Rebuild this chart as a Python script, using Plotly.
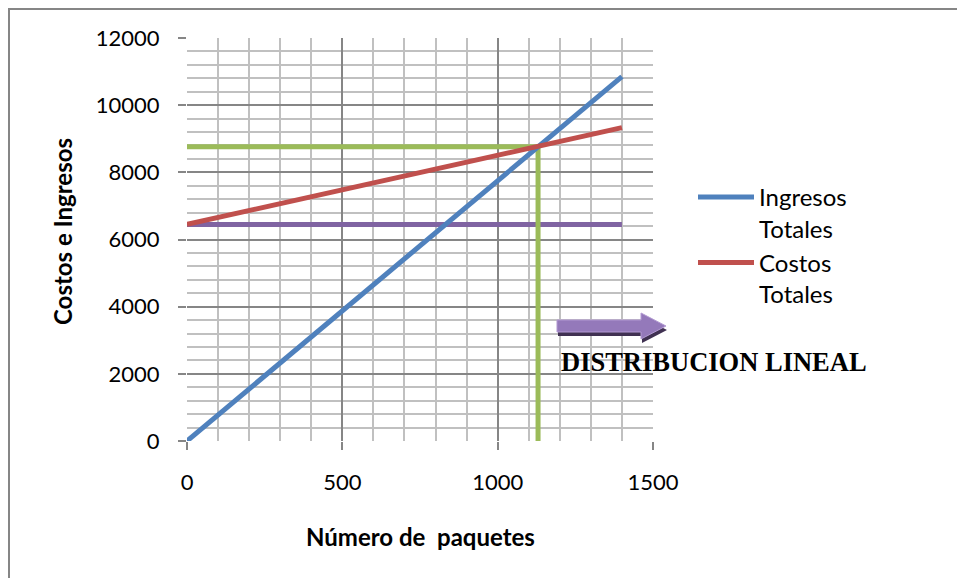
import plotly.graph_objects as go

# Data
x_ingresos = [0, 1400]
y_ingresos = [0, 10850]
x_costos = [0, 1400]
y_costos = [6450, 9330]
x_fijos = [0, 1400]
y_fijos = [6450, 6450]
x_equilibrio = [0, 1130, 1130]
y_equilibrio = [8760, 8760, 0]

x_ticks = [0, 500, 1000, 1500]
x_ticktext = ["0", "500", "1000", "1500"]
y_ticks = [0, 2000, 4000, 6000, 8000, 10000, 12000]
y_ticktext = ["0", "2000", "4000", "6000", "8000", "10000", "12000"]

W, H = 965, 578
OFF = 8  # page body offset
L, R, T, B = 187, 653, 38, 441  # plot area in screenshot pixels


def px(x):
    return (x - L) / (R - L)


def py(y):
    return (B - y) / (B - T)


FONT = "Lato"
fig = go.Figure()

fig.add_trace(go.Scatter(x=x_fijos, y=y_fijos, mode="lines",
                         line=dict(color="#8064A2", width=5), showlegend=False))
fig.add_trace(go.Scatter(x=x_equilibrio, y=y_equilibrio, mode="lines",
                         line=dict(color="#9BBB59", width=5), showlegend=False))
fig.add_trace(go.Scatter(x=x_ingresos, y=y_ingresos, mode="lines", name="Ingresos<br>Totales",
                         line=dict(color="#4F81BD", width=5)))
fig.add_trace(go.Scatter(x=x_costos, y=y_costos, mode="lines", name="Costos<br>Totales",
                         line=dict(color="#C0504D", width=5)))

axis_common = dict(
    showline=False, zeroline=False, ticks="outside", ticklen=8, tickcolor="#868686",
    tickwidth=1.5, gridcolor="#868686", gridwidth=1.5,
    tickfont=dict(family=FONT, size=22, color="#000000"),
)

fig.update_xaxes(range=[0, 1500], tickvals=x_ticks, ticktext=x_ticktext, ticklabelstandoff=14,
                 minor=dict(dtick=100, showgrid=True, gridcolor="#c0c0c0", gridwidth=1.5, ticks=""),
                 **axis_common)
fig.update_yaxes(range=[0, 12000], tickvals=y_ticks, ticktext=y_ticktext, ticklabelstandoff=14,
                 minor=dict(dtick=400, showgrid=True, gridcolor="#c0c0c0", gridwidth=1.5, ticks=""),
                 **axis_common)

shapes = []
# outer chart border
shapes.append(dict(type="rect", xref="paper", yref="paper",
                   x0=px(OFF + 1), y0=py(OFF + 1), x1=px(990), y1=py(600),
                   line=dict(color="#868686", width=2), fillcolor="rgba(0,0,0,0)", layer="below"))


def arrow_path(dx, dy):
    pts = [(557, 320), (641, 320), (641, 313), (666, 326), (641, 339), (641, 332), (557, 332)]
    s = ""
    for i, (a, b) in enumerate(pts):
        s += ("M" if i == 0 else "L") + f"{px(a + dx):.5f},{py(b + dy):.5f} "
    return s + "Z"


shapes.append(dict(type="path", xref="paper", yref="paper", path=arrow_path(1, 4),
                   fillcolor="#403152", line=dict(width=0)))
shapes.append(dict(type="path", xref="paper", yref="paper", path=arrow_path(0, 0),
                   fillcolor="#9479BA", line=dict(color="#B39BD3", width=1)))

annotations = [
    dict(text="DISTRIBUCION LINEAL", xref="paper", yref="paper", x=px(559), y=py(362),
         xanchor="left", yanchor="middle", showarrow=False,
         font=dict(family="Liberation Serif", size=26.5, color="#000000", weight="bold")),
    dict(text="<b>Costos e Ingresos</b>", xref="paper", yref="paper", x=px(62), y=py(232),
         xanchor="center", yanchor="middle", textangle=-90, showarrow=False,
         font=dict(family=FONT, size=24, color="#000000")),
    dict(text="<b>Número de  paquetes</b>", xref="paper", yref="paper", x=px(420), y=py(536),
         xanchor="center", yanchor="middle", showarrow=False,
         font=dict(family=FONT, size=24, color="#000000")),
]

fig.update_layout(
    width=W, height=H,
    margin=dict(l=L - OFF, r=W - (R - OFF), t=T - OFF, b=H - (B - OFF)),
    paper_bgcolor="white", plot_bgcolor="white",
    shapes=shapes, annotations=annotations,
    legend=dict(x=px(693), y=py(175), xanchor="left", yanchor="top", valign="top",
                font=dict(family=FONT, size=24, color="#000000"),
                bgcolor="rgba(0,0,0,0)", tracegroupgap=0, itemwidth=56),
)

fig.write_html("out.html")
